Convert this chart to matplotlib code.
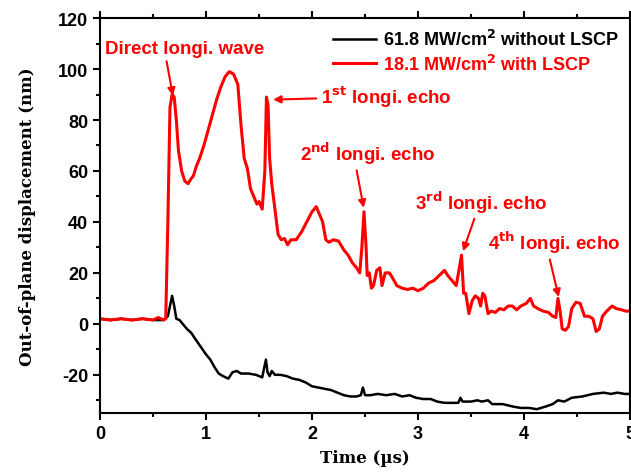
import matplotlib
matplotlib.use("Agg")
import matplotlib.pyplot as plt
from matplotlib.ticker import MultipleLocator

# red trace: 18.1 MW/cm2 with LSCP
red_t = [0, 0.1, 0.2, 0.3, 0.4, 0.5, 0.55, 0.6, 0.62, 0.64, 0.66, 0.68, 0.70, 0.72, 0.74, 0.77,
         0.80, 0.83, 0.86, 0.88, 0.91, 0.94, 0.98, 1.02, 1.06, 1.10, 1.14, 1.18, 1.22, 1.26,
         1.30, 1.33, 1.36, 1.39, 1.42, 1.45, 1.48, 1.50, 1.53, 1.555, 1.57, 1.585, 1.60, 1.62,
         1.65, 1.68, 1.71, 1.74, 1.77, 1.80, 1.85, 1.90, 1.95, 2.0, 2.04, 2.07, 2.10, 2.13,
         2.16, 2.20, 2.25, 2.30, 2.34, 2.38, 2.42, 2.45, 2.47, 2.49, 2.51, 2.52, 2.54, 2.56,
         2.58, 2.61, 2.64, 2.66, 2.69, 2.73, 2.76, 2.80, 2.85, 2.90, 2.95, 3.0, 3.05, 3.10,
         3.15, 3.20, 3.25, 3.28, 3.32, 3.36, 3.39, 3.41, 3.43, 3.45, 3.48, 3.51, 3.54, 3.57,
         3.59, 3.61, 3.63, 3.66, 3.69, 3.73, 3.77, 3.81, 3.85, 3.89, 3.93, 3.97, 4.02, 4.06,
         4.09, 4.13, 4.18, 4.23, 4.27, 4.30, 4.32, 4.34, 4.36, 4.39, 4.42, 4.45, 4.49, 4.53,
         4.57, 4.61, 4.65, 4.68, 4.71, 4.74, 4.78, 4.83, 4.87, 4.92, 4.96, 5.0]
red_y = [2, 1.5, 2, 1.5, 2, 1.5, 2.5, 1.5, 2, 40, 85, 90, 89, 80, 68, 60,
         56, 55, 57, 58, 62, 65, 70, 76, 82, 88, 93, 97, 99, 98,
         94, 78, 65, 61, 53, 50, 47, 48, 45, 60, 89, 86, 65, 55,
         45, 35, 33, 33.5, 31, 33, 33, 36, 40, 44, 46, 43, 40, 33,
         32, 33, 32.5, 29, 27, 24, 22, 20, 30, 44, 30, 19, 20, 14,
         15, 21, 22, 15, 20, 20, 18, 15, 14, 13.5, 14, 13, 14, 16,
         17, 19, 21, 19, 17, 15, 22, 27, 12, 12, 4, 9, 11, 10,
         7, 12, 11, 4, 5, 4.5, 6, 5.5, 7, 7, 5.5, 7, 8, 10,
         7, 6, 5, 4.5, 3, 2.5, 10, 5, -2, -2.5, -1, 6, 8.5, 8,
         3, 3, 2, -3, -2, 3, 5, 7, 6, 5.5, 5, 5]

# black trace: 61.8 MW/cm2 without LSCP
black_t = [0, 0.1, 0.2, 0.3, 0.4, 0.5, 0.6, 0.64, 0.66, 0.68, 0.70, 0.72, 0.75, 0.78, 0.82,
           0.86, 0.90, 0.95, 1.0, 1.04, 1.08, 1.12, 1.16, 1.21, 1.25, 1.29, 1.33, 1.40, 1.47,
           1.53, 1.55, 1.565, 1.58, 1.60, 1.62, 1.65, 1.70, 1.76, 1.82, 1.88, 1.94, 2.0, 2.06,
           2.12, 2.18, 2.24, 2.30, 2.36, 2.42, 2.46, 2.48, 2.50, 2.55, 2.62, 2.70, 2.78, 2.85,
           2.92, 2.98, 3.05, 3.12, 3.18, 3.25, 3.33, 3.38, 3.40, 3.42, 3.50, 3.56, 3.60, 3.66,
           3.70, 3.80, 3.90, 3.97, 4.05, 4.12, 4.20, 4.27, 4.32, 4.38, 4.45, 4.55, 4.65, 4.75,
           4.82, 4.88, 4.95, 5.0]
black_y = [2, 1.5, 2, 1.5, 2, 1.5, 1.5, 3, 7, 11, 7, 2, 1.5, 0, -2,
           -3.5, -6, -9, -12, -14, -17, -19.5, -20.5, -21.5, -19, -18.5, -19.5, -19.5, -20,
           -21, -17, -14, -19, -20.5, -18.5, -20, -20, -20.5, -21.5, -22, -23, -24.5, -25,
           -25.5, -26, -27, -28, -28.5, -28.5, -28, -25, -28, -28, -27.5, -28, -27.5, -28.5,
           -28, -29, -29.5, -29.5, -30.5, -31, -31, -31, -29, -30.5, -30.5, -30, -30.5, -30,
           -31.5, -31.5, -32.5, -33, -33, -33.5, -32.5, -31.5, -30, -30.5, -29, -28.5, -27.5, -27,
           -27.5, -27, -27.5, -27.5]

labels = ["61.8 MW/cm$^\\mathbf{2}$ without LSCP", "18.1 MW/cm$^\\mathbf{2}$ with LSCP"]

plt.rcParams["font.family"] = "Liberation Sans"
plt.rcParams["font.weight"] = "bold"
plt.rcParams["mathtext.default"] = "bf"
plt.rcParams["axes.unicode_minus"] = False

fig = plt.figure(figsize=(6.31, 4.77), dpi=100)
ax = fig.add_axes([0.1585, 0.132, 0.84, 0.828])

ax.plot(black_t, black_y, color="black", lw=1.8, label=labels[0])
ax.plot(red_t, red_y, color="red", lw=2.2, label=labels[1])

ax.set_xlim(0, 5)
ax.set_ylim(-35, 120)
ax.xaxis.set_major_locator(MultipleLocator(1))
ax.xaxis.set_minor_locator(MultipleLocator(0.5))
ax.yaxis.set_minor_locator(MultipleLocator(10))
ax.set_yticks(range(-20, 121, 20))
ax.tick_params(which="both", direction="out", width=1.5, labelsize=13, top=True, right=True)
ax.tick_params(which="major", length=5)
ax.tick_params(which="minor", length=3)
for s in ax.spines.values():
    s.set_linewidth(1.5)

serif = {"family": "DejaVu Serif", "weight": "bold", "size": 12}
ax.set_xlabel("Time (\u00b5s)", fontdict=serif, labelpad=5)
ax.set_ylabel("Out-of-plane displacement (nm)", fontdict=serif, labelpad=16)

leg = ax.legend(loc="upper right", frameon=False, fontsize=13, handlelength=2.4,
                handletextpad=0.4, labelspacing=0.25, borderaxespad=0.2)
for t, c in zip(leg.get_texts(), ["black", "red"]):
    t.set_color(c)

kw = dict(color="red", fontsize=13.5, fontweight="bold", ha="left", va="center")


def arrow(rx, ry):
    return dict(arrowstyle="-|>", color="red", lw=1.5, mutation_scale=11, relpos=(rx, ry),
                shrinkA=1, shrinkB=1)


ax.annotate("Direct longi. wave", xy=(0.69, 89), xytext=(0.05, 108),
            arrowprops=arrow(0.38, 0), **kw)
ax.annotate("1$^{\\mathbf{st}}$ longi. echo", xy=(1.62, 88), xytext=(2.08, 89.5),
            arrowprops=arrow(0, 0.4), **kw)
ax.annotate("2$^{\\mathbf{nd}}$ longi. echo", xy=(2.49, 45), xytext=(1.89, 67),
            arrowprops=arrow(0.41, 0), **kw)
ax.annotate("3$^{\\mathbf{rd}}$ longi. echo", xy=(3.42, 28), xytext=(2.97, 48),
            arrowprops=arrow(0.46, 0), **kw)
ax.annotate("4$^{\\mathbf{th}}$ longi. echo", xy=(4.33, 10), xytext=(3.66, 32),
            arrowprops=arrow(0.46, 0), **kw)

fig.savefig("out.png", dpi=100)
